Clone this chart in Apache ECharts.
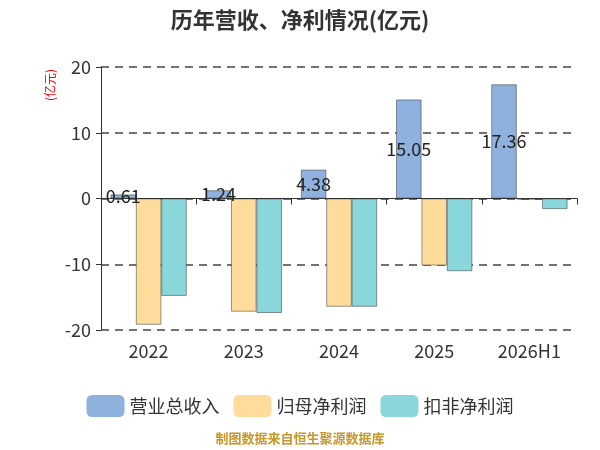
<!DOCTYPE html>
<html>
<head>
<meta charset="utf-8">
<script src="https://cdn.jsdelivr.net/npm/echarts@6/dist/echarts.min.js"></script>
<style>
html, body { margin: 0; padding: 0; background: #fff; }
#chart { width: 600px; height: 450px; }
</style>
</head>
<body>
<div id="chart"></div>
<script>
// 数据
var categories = ['2022', '2023', '2024', '2025', '2026H1'];
var revenue = [0.61, 1.24, 4.38, 15.05, 17.36];      // 营业总收入
var netProfit = [-19.19, -17.2, -16.45, -10.18, -0.15]; // 归母净利润
var deductedProfit = [-14.8, -17.4, -16.45, -11.05, -1.6]; // 扣非净利润
var seriesNames = ['营业总收入', '归母净利润', '扣非净利润'];
var seriesColors = ['#8fb1de', '#ffdb9c', '#89d7da'];

var chart = echarts.init(document.getElementById('chart'));
var font = 'Noto Sans CJK SC';

var barStyle = function (c) {
	return { color: c, borderColor: 'rgba(40,40,40,0.6)', borderWidth: 0.8 };
};

var option = {
	textStyle: { fontFamily: font },
	title: {
		text: '历年营收、净利情况(亿元)',
		left: 'center',
		top: 4,
		textStyle: { fontSize: 22, fontWeight: 'bold', color: '#333', fontFamily: font }
	},
	legend: {
		data: seriesNames,
		top: 390,
		left: 'center',
		icon: 'roundRect',
		itemWidth: 38,
		itemHeight: 22,
		itemGap: 14,
		itemStyle: { borderWidth: 0 },
		textStyle: { fontSize: 18, color: '#333', fontFamily: font }
	},
	grid: { left: 101, right: 23, top: 67, bottom: 120 },
	xAxis: [
		{
			type: 'category',
			data: categories,
			axisLine: { onZero: true, lineStyle: { color: '#333', width: 1 } },
			axisTick: { show: true, length: 6, lineStyle: { color: '#333' } },
			axisLabel: { show: false }
		},
		{
			type: 'category',
			data: categories,
			position: 'bottom',
			axisLine: { show: false },
			axisTick: { show: false },
			axisLabel: { fontSize: 18, color: '#333', margin: 12, fontFamily: font }
		}
	],
	yAxis: {
		type: 'value',
		min: -20,
		max: 20,
		interval: 10,
		axisLine: { show: true, lineStyle: { color: '#333' } },
		axisTick: { show: true, length: 5, lineStyle: { color: '#333' } },
		axisLabel: { fontSize: 18, color: '#333', margin: 10, fontFamily: font },
		splitLine: { lineStyle: { type: [8, 6], color: '#444', width: 1.5 } }
	},
	graphic: [
		{
			type: 'text',
			x: 50,
			y: 85,
			rotation: Math.PI / 2,
			style: {
				text: '(亿元)',
				fill: '#f00',
				fontSize: 12,
				fontFamily: font,
				align: 'center',
				verticalAlign: 'middle'
			}
		},
		{
			type: 'text',
			left: 'center',
			top: 432,
			style: {
				text: '制图数据来自恒生聚源数据库',
				fill: '#c8962a',
				fontSize: 13,
				fontWeight: 'bold',
				fontFamily: font
			}
		}
	],
	series: [
		{
			name: seriesNames[0],
			type: 'bar',
			xAxisIndex: 0,
			barGap: '0%',
			barCategoryGap: '20%',
			itemStyle: barStyle(seriesColors[0]),
			label: { show: true, position: 'inside', color: '#222', fontSize: 18, fontFamily: font },
			data: revenue
		},
		{
			name: seriesNames[1],
			type: 'bar',
			xAxisIndex: 0,
			barGap: '0%',
			barCategoryGap: '20%',
			itemStyle: barStyle(seriesColors[1]),
			data: netProfit
		},
		{
			name: seriesNames[2],
			type: 'bar',
			xAxisIndex: 0,
			barGap: '0%',
			barCategoryGap: '20%',
			itemStyle: barStyle(seriesColors[2]),
			data: deductedProfit
		}
	]
};

chart.setOption(option);
</script>
</body>
</html>
